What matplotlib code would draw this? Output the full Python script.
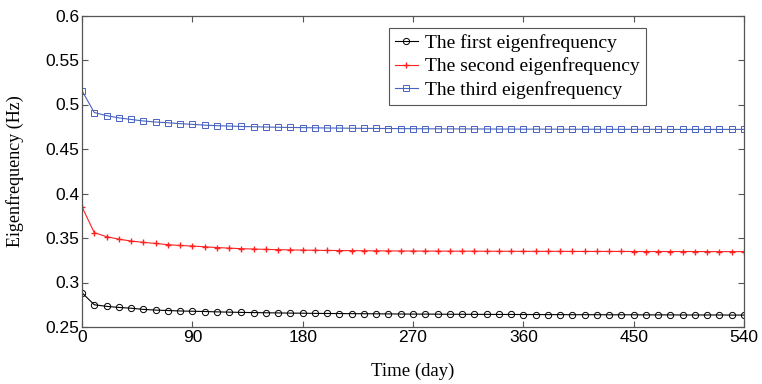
import numpy as np
import matplotlib
matplotlib.use("Agg")
import matplotlib.pyplot as plt

# time (day), one sample every 10 days
days = list(range(0, 541, 10))

first = [0.2885, 0.2750, 0.2732, 0.2720, 0.2711, 0.2698, 0.2690, 0.2685, 0.2680, 0.2677,
         0.2674, 0.2670, 0.2667, 0.2664, 0.2662, 0.2660, 0.2658, 0.2656, 0.2655, 0.2653,
         0.2652, 0.2651, 0.2650, 0.2649, 0.2648, 0.2647, 0.2646, 0.2645, 0.2645, 0.2644,
         0.2643, 0.2643, 0.2642, 0.2642, 0.2641, 0.2641, 0.2640, 0.2640, 0.2639, 0.2639,
         0.2638, 0.2638, 0.2638, 0.2637, 0.2637, 0.2637, 0.2636, 0.2636, 0.2636, 0.2635,
         0.2635, 0.2635, 0.2635, 0.2634, 0.2634]

second = [0.3850, 0.3560, 0.3515, 0.3487, 0.3466, 0.3451, 0.3439, 0.3425, 0.3416, 0.3410,
          0.3401, 0.3393, 0.3386, 0.3380, 0.3376, 0.3372, 0.3369, 0.3366, 0.3364, 0.3362,
          0.3360, 0.3359, 0.3358, 0.3357, 0.3356, 0.3355, 0.3354, 0.3354, 0.3353, 0.3353,
          0.3352, 0.3352, 0.3352, 0.3351, 0.3351, 0.3351, 0.3350, 0.3350, 0.3350, 0.3350,
          0.3349, 0.3349, 0.3349, 0.3349, 0.3349, 0.3348, 0.3348, 0.3348, 0.3348, 0.3348,
          0.3348, 0.3347, 0.3347, 0.3347, 0.3347]

third = [0.5155, 0.4910, 0.4875, 0.4850, 0.4832, 0.4815, 0.4803, 0.4795, 0.4785, 0.4777,
         0.4768, 0.4762, 0.4758, 0.4753, 0.4750, 0.4747, 0.4744, 0.4742, 0.4740, 0.4738,
         0.4736, 0.4735, 0.4733, 0.4732, 0.4731, 0.4730, 0.4729, 0.4728, 0.4727, 0.4727,
         0.4726, 0.4726, 0.4725, 0.4725, 0.4724, 0.4724, 0.4723, 0.4723, 0.4723, 0.4722,
         0.4722, 0.4722, 0.4722, 0.4721, 0.4721, 0.4721, 0.4721, 0.4721, 0.4720, 0.4720,
         0.4720, 0.4720, 0.4720, 0.4720, 0.4720]

labels = ['The first eigenfrequency', 'The second eigenfrequency', 'The third eigenfrequency']
xticks = [0, 90, 180, 270, 360, 450, 540]
yticks = [0.25, 0.3, 0.35, 0.4, 0.45, 0.5, 0.55, 0.6]
ytick_labels = ['0.25', '0.3', '0.35', '0.4', '0.45', '0.5', '0.55', '0.6']

fig = plt.figure(figsize=(7.62, 3.84), dpi=100)
ax = fig.add_axes([82 / 762, 1 - 327 / 384, (744 - 82) / 762, (327 - 15.5) / 384])

ax.plot(days, first, color='black', lw=0.8, marker='o', ms=4.5, mfc='none', mew=0.7, label=labels[0])
ax.plot(days, second, color='#ff2020', lw=0.8, marker='+', ms=5, mew=1.0, label=labels[1])
ax.plot(days, third, color='#4863c0', lw=0.8, marker='s', ms=4.5, mfc='none', mew=0.7, label=labels[2])

ax.set_xlim(0, 540)
ax.set_ylim(0.25, 0.6)
ax.set_xticks(xticks)
ax.set_xticklabels([str(t) for t in xticks])
ax.set_yticks(yticks)
ax.set_yticklabels(ytick_labels)
ax.tick_params(direction='in', top=True, right=True, length=4, width=0.8,
               labelsize=12.5, color='#555555', pad=2)
for lab in ax.get_xticklabels() + ax.get_yticklabels():
    lab.set_family('Liberation Sans')
for s in ax.spines.values():
    s.set_color('#555555')
    s.set_linewidth(0.9)

ax.set_xlabel('Time (day)', family='Liberation Serif', fontsize=13.5, labelpad=13)
ax.set_ylabel('Eigenfrequency (Hz)', family='Liberation Serif', fontsize=13, labelpad=15)

leg = ax.legend(loc='upper right', prop={'family': 'Liberation Serif', 'size': 14},
                handlelength=1.15, handletextpad=0.4, labelspacing=0.3, borderpad=0.3,
                borderaxespad=0, fancybox=False, framealpha=1, edgecolor='#555555')
leg.get_frame().set_linewidth(0.8)
leg.set_bbox_to_anchor((646 / 762, 1 - 28 / 384), transform=fig.transFigure)

fig.savefig('out.png', dpi=100)
